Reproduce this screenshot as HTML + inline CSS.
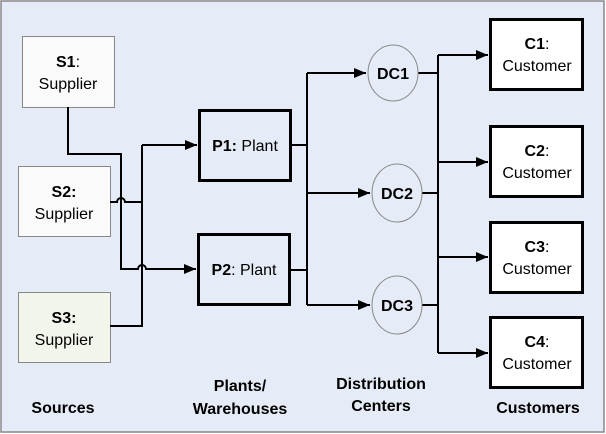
<!DOCTYPE html>
<html><head><meta charset="utf-8"><style>
html,body{margin:0;padding:0;background:#fff}
svg{display:block}
text{font-family:"Liberation Sans",Arial,sans-serif;font-size:16px;fill:#000}
.b{font-weight:bold}
</style></head><body>
<svg width="606" height="434" viewBox="0 0 606 434" xmlns="http://www.w3.org/2000/svg">
<defs><marker id="a" markerWidth="12" markerHeight="10" refX="12" refY="5" orient="auto" markerUnits="userSpaceOnUse"><path d="M0,0 L12,5 L0,10 z" fill="#000"/></marker></defs>
<rect x="1" y="1" width="603" height="431" fill="#e6ecf7" stroke="#888" stroke-width="1.5"/>
<rect x="22.5" y="36.5" width="92" height="71" fill="#fafafa" stroke="#888"/>
<rect x="18.5" y="166.5" width="92" height="70" fill="#fafafa" stroke="#888"/>
<rect x="18.5" y="292.5" width="92" height="70" fill="#f2f5ec" stroke="#888"/>
<text x="68" y="67" text-anchor="middle"><tspan class="b">S1</tspan>:</text>
<text x="68" y="89" text-anchor="middle">Supplier</text>
<text x="64" y="197" text-anchor="middle"><tspan class="b">S2:</tspan></text>
<text x="64" y="219" text-anchor="middle">Supplier</text>
<text x="64" y="323" text-anchor="middle"><tspan class="b">S3:</tspan></text>
<text x="64" y="345" text-anchor="middle">Supplier</text>
<g fill="none" stroke="#000" stroke-width="2">
<path d="M68,107 V154 H121 V269 H138 a4,4 0 0 1 8,0 H196" marker-end="url(#a)"/>
<path d="M110,202 H117 a4,4 0 0 1 8,0 H142"/>
<path d="M142,145 V326 H110"/>
<path d="M142,145 H197" marker-end="url(#a)"/>
<path d="M291,145 H307 M307,73 V305"/>
<path d="M307,73 H366" marker-end="url(#a)"/>
<path d="M307,193 H370" marker-end="url(#a)"/>
<path d="M307,305 H370" marker-end="url(#a)"/>
<path d="M290,270 H307"/>
<path d="M418,73 H438 M422,193 H438 M422,305 H438 M438,55 V353"/>
<path d="M438,55 H488" marker-end="url(#a)"/>
<path d="M438,162 H488" marker-end="url(#a)"/>
<path d="M438,257 H488" marker-end="url(#a)"/>
<path d="M438,353 H488" marker-end="url(#a)"/>
</g>
<rect x="199.5" y="110.5" width="91" height="70" fill="#e6ecf7" stroke="#000" stroke-width="3"/>
<rect x="198.5" y="234.5" width="91" height="70" fill="#e6ecf7" stroke="#000" stroke-width="3"/>
<text x="245" y="151" text-anchor="middle"><tspan class="b">P1:</tspan> Plant</text>
<text x="244" y="275" text-anchor="middle"><tspan class="b">P2</tspan>: Plant</text>
<ellipse cx="393" cy="73" rx="25" ry="28" fill="#e6ecf7" stroke="#888"/>
<ellipse cx="397" cy="193" rx="25" ry="29" fill="#e6ecf7" stroke="#888"/>
<ellipse cx="397" cy="305" rx="25" ry="29" fill="#e6ecf7" stroke="#888"/>
<text x="393" y="79" text-anchor="middle" class="b">DC1</text>
<text x="397" y="199" text-anchor="middle" class="b">DC2</text>
<text x="397" y="311" text-anchor="middle" class="b">DC3</text>
<g fill="#fff" stroke="#000" stroke-width="3">
<rect x="490.5" y="19.5" width="92" height="70"/>
<rect x="490.5" y="126.5" width="92" height="70"/>
<rect x="490.5" y="222.5" width="92" height="70"/>
<rect x="490.5" y="317.5" width="92" height="70"/>
</g>
<text x="537" y="49" text-anchor="middle"><tspan class="b">C1</tspan>:</text>
<text x="537" y="71" text-anchor="middle">Customer</text>
<text x="537" y="156" text-anchor="middle"><tspan class="b">C2</tspan>:</text>
<text x="537" y="178" text-anchor="middle">Customer</text>
<text x="537" y="252" text-anchor="middle"><tspan class="b">C3</tspan>:</text>
<text x="537" y="274" text-anchor="middle">Customer</text>
<text x="537" y="347" text-anchor="middle"><tspan class="b">C4</tspan>:</text>
<text x="537" y="369" text-anchor="middle">Customer</text>
<text x="63" y="413" text-anchor="middle" class="b">Sources</text>
<text x="240" y="391" text-anchor="middle" class="b">Plants/</text>
<text x="240" y="414" text-anchor="middle" class="b">Warehouses</text>
<text x="381" y="389" text-anchor="middle" class="b">Distribution</text>
<text x="381" y="411" text-anchor="middle" class="b">Centers</text>
<text x="538" y="413" text-anchor="middle" class="b">Customers</text>
</svg>
</body></html>
